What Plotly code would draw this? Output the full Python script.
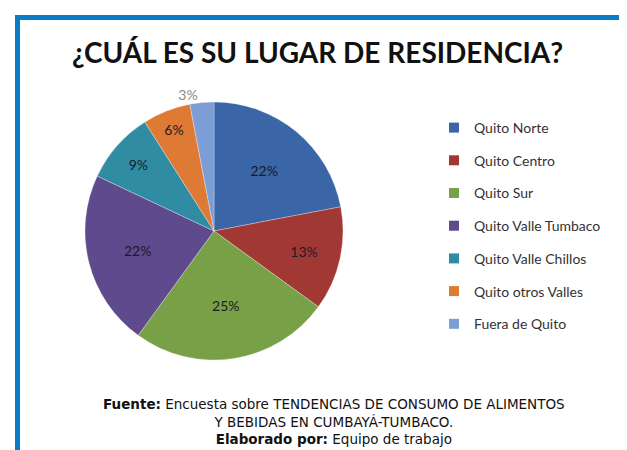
import plotly.graph_objects as go

categories = ["Quito Norte", "Quito Centro", "Quito Sur", "Quito Valle Tumbaco",
              "Quito Valle Chillos", "Quito otros Valles", "Fuera de Quito"]
values = [22, 13, 25, 22, 9, 6, 3]
colors = ["#3A66A7", "#A23834", "#77A047", "#5E4A8C", "#2F8CA3", "#DE7A33", "#7C9DD5"]
text_pos = ["inside"] * 6 + ["outside"]
text_colors = ["#1A1A2A"] * 6 + ["#8A8A8A"]

title_text = "¿CUÁL ES SU LUGAR DE RESIDENCIA?"
footer_lines = [
    "<b>Fuente:</b> Encuesta sobre TENDENCIAS DE CONSUMO DE ALIMENTOS",
    "Y BEBIDAS EN CUMBAYÁ-TUMBACO.",
    "<b>Elaborado por:</b> Equipo de trabajo",
]

W, H = 627, 450

fig = go.Figure()
fig.add_trace(go.Pie(
    labels=categories,
    values=values,
    sort=False,
    direction="clockwise",
    rotation=0,
    marker=dict(colors=colors, line=dict(color="rgba(255,255,255,0.5)", width=0.6)),
    texttemplate="%{percent:.0%}",
    textposition=text_pos,
    textfont=dict(family="Lato", size=14, color=text_colors),
    insidetextorientation="horizontal",
    domain=dict(x=[77 / W, 335 / W], y=[1 - 353 / H, 1 - 93 / H]),
    showlegend=False,
    hoverinfo="label+percent",
))

# legend entries (one per category, each in its own group for spacing)
for cat, col in zip(categories, colors):
    fig.add_trace(go.Scatter(
        x=[None], y=[None], mode="markers", name=cat, legendgroup=cat,
        marker=dict(symbol="square", size=10, color=col),
        showlegend=True,
    ))

fig.update_layout(
    width=W, height=H,
    margin=dict(l=0, r=0, t=0, b=0),
    paper_bgcolor="white", plot_bgcolor="white",
    xaxis=dict(visible=False), yaxis=dict(visible=False),
    legend=dict(
        x=426 / W, y=1 - 104 / H, xanchor="left", yanchor="top",
        font=dict(family="Lato", size=14, color="#333333"),
        tracegroupgap=11.5, itemwidth=30,
        bgcolor="rgba(0,0,0,0)",
    ),
    annotations=[
        dict(text="<b>" + title_text + "</b>", x=309 / W, y=1 - 44 / H, xref="paper", yref="paper",
             showarrow=False, font=dict(family="Lato", size=28, color="#111111"),
             xanchor="center", yanchor="middle"),
        dict(text="<br>".join(footer_lines), x=326 / W, y=1 - 413 / H,
             xref="paper", yref="paper", showarrow=False, align="center",
             font=dict(family="DejaVu Sans", size=13.5, color="#111111"),
             xanchor="center", yanchor="middle"),
    ],
    shapes=[
        dict(type="rect", xref="paper", yref="paper", x0=7 / W, x1=12 / W, y0=0, y1=1 - 7 / H,
             fillcolor="#0A7BC4", line=dict(width=0), layer="above"),
        dict(type="rect", xref="paper", yref="paper", x0=7 / W, x1=1, y0=1 - 12 / H, y1=1 - 7 / H,
             fillcolor="#0A7BC4", line=dict(width=0), layer="above"),
    ],
)

fig.write_html("out.html")
